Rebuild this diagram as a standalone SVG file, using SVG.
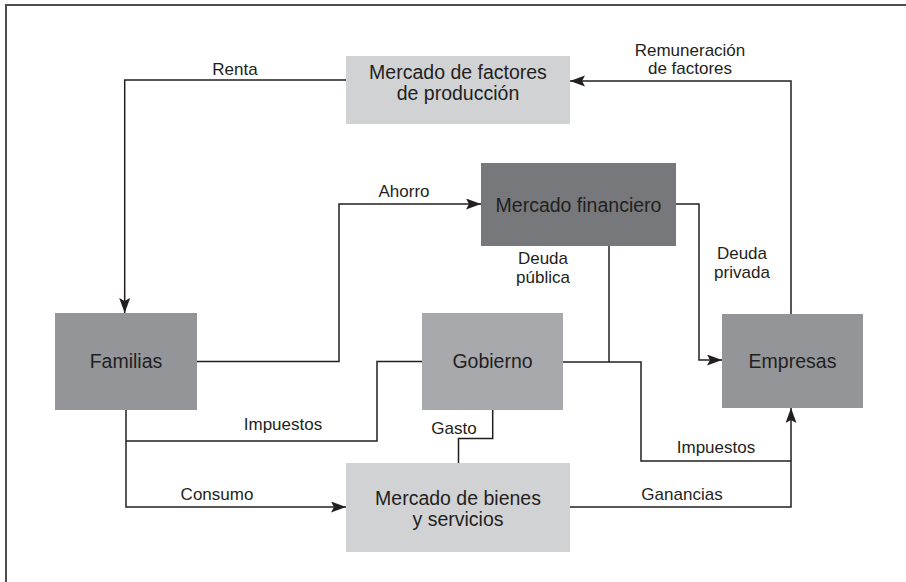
<svg xmlns="http://www.w3.org/2000/svg" width="906" height="582" viewBox="0 0 906 582">
<defs>
<marker id="arr" markerUnits="userSpaceOnUse" markerWidth="18" markerHeight="12" refX="15" refY="5.5" orient="auto">
<path d="M0,0 L15,5.5 L0,11 L3,5.5 z" fill="#231f20"/>
</marker>
<style>
.frame{fill:none;stroke:#4d4d4f;stroke-width:2}
.c{fill:none;stroke:#231f20;stroke-width:1.5}
.a{marker-end:url(#arr)}
.light{fill:#d1d2d4}
.mid{fill:#939598}
.gov{fill:#a7a9ac}
.dark{fill:#77787b}
.nt{font-family:"Liberation Sans",Arial,sans-serif;font-size:19.5px;fill:#231f20;text-anchor:middle}
.lt{font-family:"Liberation Sans",Arial,sans-serif;font-size:17px;fill:#231f20;text-anchor:middle}
</style>
</defs>
<rect width="906" height="582" fill="#ffffff"/>
<path class="frame" d="M6,582 V5 H906"/>
<g id="connectors">
<path class="c a" d="M346,80 H124.7 V313"/>
<path class="c a" d="M791,314 V81 H570"/>
<path class="c a" d="M197,361.5 H339 V204 H481"/>
<path class="c a" d="M676,204 H699 V360 H722"/>
<path class="c" d="M609,246 V362"/>
<path class="c" d="M563,362 H641 V461 H791"/>
<path class="c a" d="M570,507 H791 V408"/>
<path class="c a" d="M126,410 V507 H346"/>
<path class="c" d="M126,441 H377 V361.5 H422"/>
<path class="c" d="M492.7,410 V438.5 H458.5 V463"/>
<text class="lt" x="235" y="75">Renta</text>
<text class="lt" x="690" y="56">Remuneración</text>
<text class="lt" x="690" y="74">de factores</text>
<text class="lt" x="404" y="197">Ahorro</text>
<text class="lt" x="543" y="264">Deuda</text>
<text class="lt" x="543" y="283">pública</text>
<text class="lt" x="742" y="259">Deuda</text>
<text class="lt" x="742" y="278">privada</text>
<text class="lt" x="283" y="430">Impuestos</text>
<text class="lt" x="454" y="434">Gasto</text>
<text class="lt" x="716" y="453">Impuestos</text>
<text class="lt" x="217" y="500">Consumo</text>
<text class="lt" x="682" y="500">Ganancias</text>
</g>
<g id="mercado-factores">
<rect class="light" x="346" y="56" width="224" height="68"/>
<text class="nt" x="458" y="79">Mercado de factores</text>
<text class="nt" x="458" y="99.5">de producción</text>
</g>
<g id="mercado-financiero">
<rect class="dark" x="481" y="163" width="195" height="83"/>
<text class="nt" x="578.5" y="212">Mercado financiero</text>
</g>
<g id="familias">
<rect class="mid" x="55" y="313" width="142" height="97"/>
<text class="nt" x="126" y="368">Familias</text>
</g>
<g id="gobierno">
<rect class="gov" x="422" y="313" width="141" height="97"/>
<text class="nt" x="492.5" y="368">Gobierno</text>
</g>
<g id="empresas">
<rect class="mid" x="722" y="314" width="141" height="94"/>
<text class="nt" x="792.5" y="368">Empresas</text>
</g>
<g id="mercado-bienes">
<rect class="light" x="346" y="463" width="224" height="89"/>
<text class="nt" x="458" y="505">Mercado de bienes</text>
<text class="nt" x="458" y="525.5">y servicios</text>
</g>
</svg>
